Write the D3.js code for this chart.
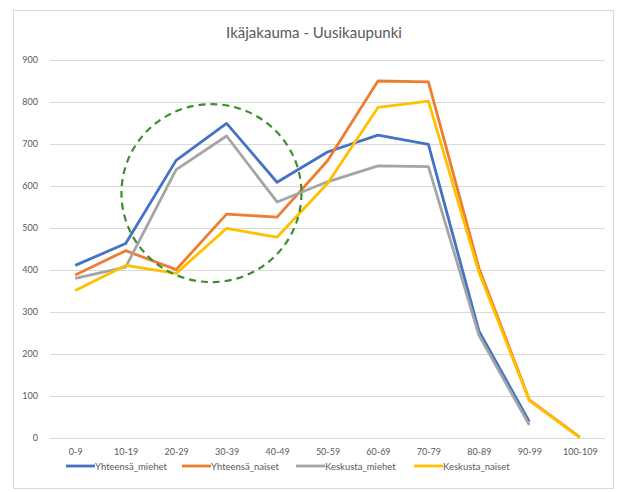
<!DOCTYPE html>
<html><head><meta charset="utf-8">
<script src="https://cdn.jsdelivr.net/npm/d3@7"></script>
<style>body{margin:0;background:#fff}svg{display:block}</style>
</head><body>
<script>
const categories = ["0-9","10-19","20-29","30-39","40-49","50-59","60-69","70-79","80-89","90-99","100-109"];
const yhteensaMiehet = [411, 463, 661, 749, 609, 681, 721, 699, 255, 39, null];
const yhteensaNaiset = [388, 446, 401, 533, 526, 660, 850, 848, 405, 91, 2];
const keskustaMiehet = [380, 407, 639, 719, 562, 610, 648, 646, 245, 31, null];
const keskustaNaiset = [351, 411, 392, 499, 478, 606, 787, 802, 395, 89, 1];
const seriesNames = ["Yhteensä_miehet","Yhteensä_naiset","Keskusta_miehet","Keskusta_naiset"];
const seriesValues = [yhteensaMiehet, yhteensaNaiset, keskustaMiehet, keskustaNaiset];
const colors = ["#4472C4","#ED7D31","#A5A5A5","#FFC000"];
const yTicks = [0,100,200,300,400,500,600,700,800,900];
const title = "Ikäjakauma - Uusikaupunki";

const W = 618, H = 492;
const svg = d3.select("body").append("svg").attr("width", W).attr("height", H);
svg.append("rect").attr("width", W).attr("height", H).attr("fill", "#fff");
svg.append("rect").attr("x", 13.5).attr("y", 10.5).attr("width", 600).attr("height", 478)
  .attr("fill", "#fff").attr("stroke", "#d9d9d9");

const font = "Lato, 'Open Sans', sans-serif";
const x = d3.scalePoint().domain(categories).range([50, 605]).padding(0.5);
const y = d3.scaleLinear().domain([0, 900]).range([438, 60]);

svg.append("text").attr("x", 314).attr("y", 38).attr("text-anchor", "middle")
  .attr("font-family", font).attr("font-size", 15).attr("fill", "#595959").text(title);

// grid
const yAxis = svg.append("g").attr("transform", "translate(50,0)")
  .call(d3.axisLeft(y).tickValues(yTicks).tickSize(-555).tickPadding(12));
yAxis.select(".domain").remove();
yAxis.selectAll("line").attr("stroke", "#d9d9d9");
yAxis.selectAll("text").attr("font-family", font).attr("font-size", 9).attr("fill", "#595959");

const xAxis = svg.append("g").attr("transform", "translate(0,438)")
  .call(d3.axisBottom(x).tickSize(0).tickPadding(11));
xAxis.select(".domain").remove();
xAxis.selectAll("text").attr("font-family", font).attr("font-size", 9).attr("fill", "#595959");

const line = d3.line().defined(d => d != null)
  .x((d, i) => x(categories[i])).y(d => y(d));

seriesValues.forEach((vals, k) => {
  svg.append("path").datum(vals).attr("d", line)
    .attr("fill", "none").attr("stroke", colors[k]).attr("stroke-width", 2.8)
    .attr("stroke-linejoin", "round");
});

// annotation circle
const cx = x(categories[2]) + 0.7 * x.step();
const cy = y(583);
svg.append("ellipse").attr("cx", cx).attr("cy", cy).attr("rx", 90).attr("ry", 89)
  .attr("fill", "none").attr("stroke", "#3a8f2c").attr("stroke-width", 2.2)
  .attr("stroke-dasharray", "7,5");

// legend
const legendX = [66, 182, 296, 414];
const lg = svg.append("g").attr("transform", "translate(0,466)");
seriesNames.forEach((n, k) => {
  lg.append("line").attr("x1", legendX[k]).attr("x2", legendX[k] + 29).attr("y1", 0).attr("y2", 0)
    .attr("stroke", colors[k]).attr("stroke-width", 2.8);
  lg.append("text").attr("x", legendX[k] + 29).attr("y", 3.5)
    .attr("font-family", font).attr("font-size", 9.5).attr("fill", "#595959").text(n);
});
</script>
</body></html>
